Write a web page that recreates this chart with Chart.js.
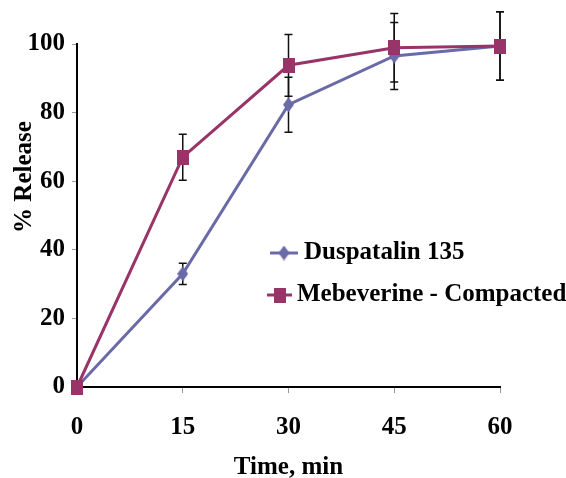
<!DOCTYPE html>
<html><head><meta charset="utf-8">
<script src="https://cdn.jsdelivr.net/npm/chart.js@4/dist/chart.umd.min.js"></script>
<style>html,body{margin:0;padding:0;background:#fff;} #wrap{width:566px;height:478px;position:relative;}</style>
</head><body><div id="wrap"><canvas id="c" width="566" height="478"></canvas></div>
<script>
const timeMin = [0, 15, 30, 45, 60];
const duspatalin = [0, 33, 82.3, 96.5, 99.4];
const duspatalinErr = [0, 3.1, 8, 9.8, 10];
const mebeverine = [0, 67, 93.8, 98.9, 99.4];
const mebeverineErr = [0, 6.7, 9, 10, 10];
const xTicks = [0, 15, 30, 45, 60];
const yTicks = [0, 20, 40, 60, 80, 100];
const seriesNames = ['Duspatalin 135', 'Mebeverine - Compacted'];
const xTitle = 'Time, min';
const yTitle = '% Release';

const COL_D = '#6a6aa8';
const COL_M = '#983468';
const FONT = "'Liberation Serif', 'Times New Roman', serif";

function makeMarker(shape, w, h, color) {
  const c = document.createElement('canvas');
  c.width = w; c.height = h;
  const g = c.getContext('2d');
  g.fillStyle = color;
  if (shape === 'diamond') {
    g.beginPath();
    g.moveTo(w / 2, 0); g.lineTo(w, h / 2); g.lineTo(w / 2, h); g.lineTo(0, h / 2);
    g.closePath(); g.fill();
  } else {
    g.fillRect(0, 0, w, h);
  }
  return c;
}
const markD = makeMarker('diamond', 11, 15, COL_D);
const markM = makeMarker('rect', 12, 15, COL_M);

const errorBars = {
  id: 'errorBars',
  beforeDatasetsDraw(chart) {
    const ctx = chart.ctx, xs = chart.scales.x, ys = chart.scales.y;
    const sets = [[duspatalin, duspatalinErr], [mebeverine, mebeverineErr]];
    ctx.save();
    ctx.strokeStyle = '#111';
    ctx.lineWidth = 1.5;
    sets.forEach(([vals, errs]) => {
      vals.forEach((v, i) => {
        if (!errs[i]) return;
        const x = xs.getPixelForValue(timeMin[i]);
        const y1 = ys.getPixelForValue(v + errs[i]);
        const y2 = ys.getPixelForValue(v - errs[i]);
        ctx.beginPath();
        ctx.moveTo(x, y1); ctx.lineTo(x, y2);
        ctx.moveTo(x - 4, y1); ctx.lineTo(x + 4, y1);
        ctx.moveTo(x - 4, y2); ctx.lineTo(x + 4, y2);
        ctx.stroke();
      });
    });
    ctx.restore();
  }
};

const legendPlugin = {
  id: 'customLegend',
  afterDraw(chart) {
    const ctx = chart.ctx;
    const rows = [
      {x1: 270, x2: 298, y: 253, tx: 304, color: COL_D, mark: markD, text: seriesNames[0]},
      {x1: 267, x2: 292, y: 295, tx: 297, color: COL_M, mark: markM, text: seriesNames[1]}
    ];
    ctx.save();
    rows.forEach(r => {
      ctx.strokeStyle = r.color; ctx.lineWidth = 3;
      ctx.beginPath(); ctx.moveTo(r.x1, r.y); ctx.lineTo(r.x2, r.y); ctx.stroke();
      const cx = (r.x1 + r.x2) / 2;
      ctx.drawImage(r.mark, cx - r.mark.width / 2, r.y - r.mark.height / 2);
      ctx.fillStyle = '#000';
      ctx.font = 'bold 25px ' + FONT;
      ctx.textBaseline = 'middle';
      ctx.textAlign = 'left';
      ctx.fillText(r.text, r.tx, r.y);
    });
    // y-axis title (placed off-centre as in the reference)
    ctx.translate(25, 177);
    ctx.rotate(-Math.PI / 2);
    ctx.textAlign = 'center';
    ctx.fillText(yTitle, 0, 0);
    ctx.restore();
  }
};

const tickFont = {family: FONT, size: 25, weight: 'bold', lineHeight: 1};

new Chart(document.getElementById('c'), {
  type: 'line',
  data: {
    datasets: [
      {label: seriesNames[0], data: timeMin.map((t, i) => ({x: t, y: duspatalin[i]})),
       borderColor: COL_D, backgroundColor: COL_D, borderWidth: 3, pointStyle: markD, pointRadius: 7,
       clip: false, tension: 0, fill: false, order: 2},
      {label: seriesNames[1], data: timeMin.map((t, i) => ({x: t, y: mebeverine[i]})),
       borderColor: COL_M, backgroundColor: COL_M, borderWidth: 3, pointStyle: markM, pointRadius: 7,
       clip: false, tension: 0, fill: false, order: 1}
    ]
  },
  options: {
    responsive: false, animation: false, devicePixelRatio: 1,
    layout: {padding: {top: 44, right: 66, bottom: 0, left: 0}},
    plugins: {legend: {display: false}, tooltip: {enabled: false}},
    scales: {
      x: {
        type: 'linear', min: 0, max: 60,
        afterBuildTicks: s => { s.ticks = xTicks.map(v => ({value: v})); },
        afterFit: s => { s.height = 91; },
        grid: {display: true, drawOnChartArea: false, drawTicks: true, tickLength: 6, tickWidth: 1, tickColor: '#999'},
        border: {display: true, color: '#000', width: 2},
        ticks: {font: tickFont, color: '#000', padding: 22, maxRotation: 0},
        title: {display: true, text: xTitle, font: tickFont, color: '#000', padding: {top: 0, bottom: -2}}
      },
      y: {
        type: 'linear', min: 0, max: 100,
        afterBuildTicks: s => { s.ticks = yTicks.map(v => ({value: v})); },
        afterFit: s => { s.width = 77; },
        grid: {display: true, drawOnChartArea: false, drawTicks: true, tickLength: 5, tickWidth: 1, tickColor: '#999'},
        border: {display: true, color: '#000', width: 2},
        ticks: {font: tickFont, color: '#000', padding: 7},
        title: {display: false, text: yTitle}
      }
    }
  },
  plugins: [errorBars, legendPlugin]
});
</script>
</body></html>
